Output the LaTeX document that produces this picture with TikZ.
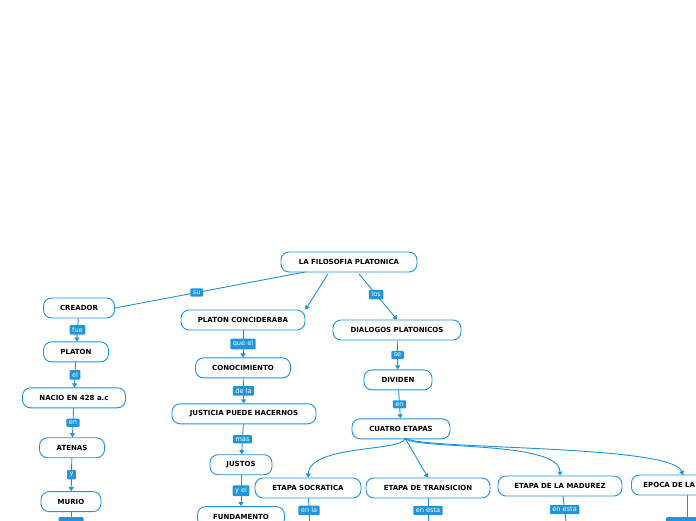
\documentclass[tikz,border=0pt]{standalone}
\usepackage{fontspec}
\usetikzlibrary{arrows.meta,positioning}
\newfontfamily\mapfont{DejaVu Sans}
\definecolor{mapBlue}{HTML}{1D91E0}
\definecolor{mapLabel}{HTML}{1E96DD}

\begin{document}
\begin{tikzpicture}[x=1pt, y=-1pt,
          node distance=23pt,
          n/.style={draw=mapBlue, line width=0.9pt, rounded corners=8pt, fill=white,
            font=\mapfont\fontsize{7}{8}\selectfont\bfseries, minimum height=20pt,
            inner sep=2pt, align=center},
          lab/.style={fill=mapLabel, text=white, rounded corners=1pt,
            font=\mapfont\fontsize{6.6}{7.5}\selectfont, inner xsep=2.5pt, inner ysep=2.2pt},
          link/.style={mapBlue, line width=0.9pt},
          arr/.style={-{Triangle[length=4pt,width=5pt]}, link}]
        \useasboundingbox (0,0) rectangle (696,520);
        \clip (0,0) rectangle (696,520);
        % main topic
        \node[n, minimum width=136pt] (filo) at (349,262) {LA FILOSOFIA PLATONICA};
        % left branch
        \node[n, minimum width=71pt] (creador) at (79,308) {CREADOR};
        \node[n, minimum width=65pt, below=23pt of creador, xshift=-3pt] (platon) {PLATON};
        \node[n, minimum width=103pt, below=25pt of platon, xshift=-2pt] (nacio) {NACIO EN 428 a.c};
        \node[n, minimum width=65pt, below=29pt of nacio, xshift=-2pt] (atenas) {ATENAS};
        \node[n, minimum width=60pt, below=33pt of atenas, xshift=-1pt] (murio) {MURIO};
        \coordinate (murioend) at (71,517);
        % middle branch
        \node[n, minimum width=124pt] (concid) at (243,320) {PLATON CONCIDERABA};
        \node[n, minimum width=95pt, below=27pt of concid] (conoc) {CONOCIMIENTO};
        \node[n, minimum width=144pt, below=25pt of conoc, xshift=1pt] (justicia) {JUSTICIA PUEDE HACERNOS};
        \node[n, minimum width=62pt, below=30pt of justicia, xshift=-3pt] (justos) {JUSTOS};
        \node[n, minimum width=87pt, below=31pt of justos] (fund) {FUNDAMENTO};
        % right branch
        \node[n, minimum width=128pt] (dialogos) at (397,330) {DIALOGOS PLATONICOS};
        \node[n, minimum width=68pt, below=29pt of dialogos, xshift=1pt] (dividen) {DIVIDEN};
        \node[n, minimum width=98pt, below=28pt of dividen, xshift=3pt] (cuatro) {CUATRO ETAPAS};
        \node[n, minimum width=106pt] (socra) at (308,488) {ETAPA SOCRATICA};
        \node[n, minimum width=124pt] (trans) at (428,488) {ETAPA DE TRANSICION};
        \node[n, minimum width=124pt] (madur) at (560,486) {ETAPA DE LA MADUREZ};
        \node[n, anchor=west, text width=110pt, align=left, inner xsep=12pt] (epoca) at (631,485) {EPOCA DE LA};
        \coordinate (socraend) at (310,530);
        \coordinate (transend) at (428,530);
        \coordinate (madurend) at (567,530);
        \coordinate (epocaend) at (687,517);

        % connectors
        \draw[link] (305,272) -- (creador.east) node[lab, pos=0.57] {su};
        \draw[arr] (328,274) -- (concid.north east);
        \draw[arr] (359,274) -- (dialogos.north) node[lab, pos=0.45] {los};
        \draw[arr] (creador) -- (platon) node[lab, midway] {fue};
        \draw[arr] (platon) -- (nacio) node[lab, midway] {el};
        \draw[arr] (nacio) -- (atenas) node[lab, midway] {en};
        \draw[arr] (atenas) -- (murio) node[lab, midway] {y};
        \draw[link] (murio) -- (murioend);
        \node[lab, anchor=north, minimum width=25pt, minimum height=10pt] at (murioend) {};
        \draw[arr] (concid) -- (conoc) node[lab, midway] {que el};
        \draw[arr] (conoc) -- (justicia) node[lab, midway] {de la};
        \draw[arr] (justicia) -- (justos) node[lab, midway] {mas};
        \draw[arr] (justos) -- (fund) node[lab, midway] {y el};
        \draw[arr] (dialogos) -- (dividen) node[lab, midway] {se};
        \draw[arr] (dividen) -- (cuatro) node[lab, midway] {en};
        \draw[arr] (405,438) .. controls (405,452) and (310,444) .. (socra.north);
        \draw[arr] (405,438) -- (trans.north);
        \draw[arr] (405,438) .. controls (412,450) and (560,440) .. (madur.north);
        \draw[arr] (405,438) .. controls (418,450) and (672,444) .. (683,475);
        \draw[link] (socra) -- (socraend) node[lab, pos=0.38] {en la};
        \draw[link] (trans) -- (transend) node[lab, pos=0.38] {en esta};
        \draw[link] (563,496) -- (madurend) node[lab, pos=0.4] {en esta};
        \draw[link] (epocaend |- epoca.south) -- (epocaend);
        \node[lab, anchor=north west, minimum width=40pt, minimum height=10pt] at (666,517) {};
      \end{tikzpicture}
\end{document}
